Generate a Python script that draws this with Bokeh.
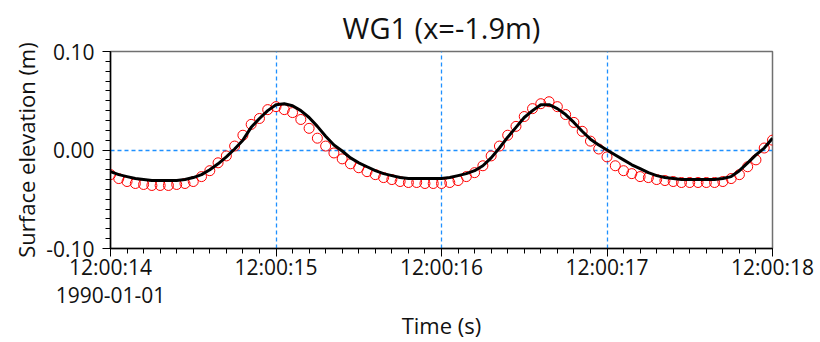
import numpy as np
from bokeh.plotting import figure
from bokeh.models import (Range1d, FixedTicker, DatetimeTickFormatter,
                          PrintfTickFormatter, ColumnDataSource)
from bokeh.embed import file_html
from bokeh.resources import INLINE

# ---- data -------------------------------------------------------------
title_text = "WG1 (x=-1.9m)"
start_time = "1990-01-01T12:00:14"
# time offsets (s) from start_time
t_seconds = [round(0.05 * i, 2) for i in range(81)]

measured = [
    -0.025, -0.029, -0.032, -0.034, -0.035, -0.036, -0.036, -0.036, -0.035, -0.034,
    -0.032, -0.027, -0.021, -0.013, -0.006, 0.004, 0.015, 0.026, 0.032, 0.041,
    0.044, 0.041, 0.038, 0.031, 0.022, 0.012, 0.004, -0.003, -0.009, -0.014,
    -0.018, -0.022, -0.025, -0.028, -0.030, -0.032, -0.033, -0.033, -0.034, -0.034,
    -0.034, -0.033, -0.031, -0.027, -0.023, -0.016, -0.006, 0.004, 0.015, 0.024,
    0.034, 0.042, 0.047, 0.049, 0.044, 0.036, 0.028, 0.019, 0.009, 0.001,
    -0.007, -0.016, -0.021, -0.024, -0.027, -0.028, -0.030, -0.031, -0.032, -0.033,
    -0.033, -0.033, -0.033, -0.033, -0.032, -0.029, -0.025, -0.017, -0.010, 0.002,
    0.010,
]

model = [
    -0.022, -0.025, -0.027, -0.029, -0.030, -0.031, -0.031, -0.031, -0.031, -0.030,
    -0.028, -0.025, -0.020, -0.014, -0.007, 0.001, 0.010, 0.023, 0.032, 0.040,
    0.046, 0.047, 0.045, 0.040, 0.033, 0.024, 0.014, 0.005, -0.001, -0.008,
    -0.013, -0.017, -0.021, -0.024, -0.026, -0.028, -0.029, -0.029, -0.029, -0.029,
    -0.029, -0.028, -0.026, -0.024, -0.021, -0.016, -0.008, 0.002, 0.013, 0.023,
    0.033, 0.040, 0.046, 0.046, 0.042, 0.036, 0.028, 0.019, 0.011, 0.005,
    0.000, -0.005, -0.010, -0.015, -0.019, -0.023, -0.026, -0.028, -0.029, -0.030,
    -0.030, -0.030, -0.030, -0.030, -0.029, -0.027, -0.021, -0.013, -0.005, 0.002,
    0.012,
]

x_tick_seconds = [0, 1, 2, 3, 4]
y_ticks = [-0.10, 0.00, 0.10]

# ---- helpers ----------------------------------------------------------
base_ms = np.datetime64(start_time, "ms").astype("int64")
def to_ms(s):
    return float(base_ms + s * 1000.0)

x_ms = [to_ms(s) for s in t_seconds]
x_dt = np.array(x_ms).astype("datetime64[ms]")
src = ColumnDataSource(dict(x=x_dt, meas=measured, model=model))

FONT = "Open Sans"

p = figure(frame_width=662, frame_height=197, x_axis_type="datetime",
           output_backend="svg", toolbar_location=None,
           x_range=Range1d(to_ms(x_tick_seconds[0]), to_ms(x_tick_seconds[-1])),
           y_range=Range1d(y_ticks[0], y_ticks[-1]),
           min_border_left=95, min_border_right=44,
           min_border_top=42, min_border_bottom=86,
           margin=(0, 0, 0, 8))

p.title.text = title_text
p.title.align = "center"
p.title.text_font = FONT
p.title.text_font_size = "29px"
p.title.text_font_style = "normal"
p.title.text_color = "#111111"

p.scatter("x", "meas", source=src, marker="circle", size=10,
          fill_color=None, line_color="#ff0000", line_width=1)
p.line("x", "model", source=src, line_color="black", line_width=3)

# axes
xt = FixedTicker(ticks=[to_ms(s) for s in x_tick_seconds],
                 minor_ticks=[to_ms(0.1 * i) for i in range(41)])
p.xaxis.ticker = xt
fmt = "%H:%M:%S"
p.xaxis.formatter = DatetimeTickFormatter(
    microseconds=fmt, milliseconds=fmt, seconds=fmt, minsec=fmt,
    minutes=fmt, hourmin=fmt, hours=fmt, days=fmt, months=fmt, years=fmt,
    context="%Y-%m-%d", context_which="start")
p.yaxis.ticker = FixedTicker(ticks=y_ticks,
                             minor_ticks=[round(-0.1 + 0.01 * i, 2) for i in range(21)])
p.yaxis.formatter = PrintfTickFormatter(format="%.2f")

p.xaxis.axis_label = "Time (s)"
p.yaxis.axis_label = "Surface elevation (m)"

for ax in (p.xaxis[0], p.yaxis[0]):
    ax.axis_line_color = "black"
    ax.axis_line_width = 1.5
    ax.major_tick_line_color = "black"
    ax.minor_tick_line_color = "black"
    ax.major_tick_in = 0
    ax.major_tick_out = 8
    ax.minor_tick_in = 0
    ax.minor_tick_out = 5
    ax.major_label_text_font = FONT
    ax.major_label_text_font_size = "21px"
    ax.major_label_text_color = "#111111"
    ax.axis_label_text_font = FONT
    ax.axis_label_text_font_size = "22px"
    ax.axis_label_text_font_style = "normal"
    ax.axis_label_text_color = "#111111"

p.xaxis.major_label_standoff = -4
p.xaxis.major_label_text_line_height = 1.0
p.xaxis.axis_label_standoff = -2
p.yaxis.major_label_standoff = 8
p.yaxis.axis_label_standoff = 2

# grid only at interior majors
p.xgrid.ticker = FixedTicker(ticks=[to_ms(s) for s in x_tick_seconds[1:-1]])
p.ygrid.ticker = FixedTicker(ticks=[0.0])
for g in (p.xgrid[0], p.ygrid[0]):
    g.grid_line_color = "#1e90ff"
    g.grid_line_dash = "4 3"
    g.grid_line_width = 1.3

p.outline_line_color = "#707070"
p.outline_line_width = 1.5
p.background_fill_color = "white"
p.border_fill_color = "white"

open("out.html", "w").write(file_html(p, INLINE))
